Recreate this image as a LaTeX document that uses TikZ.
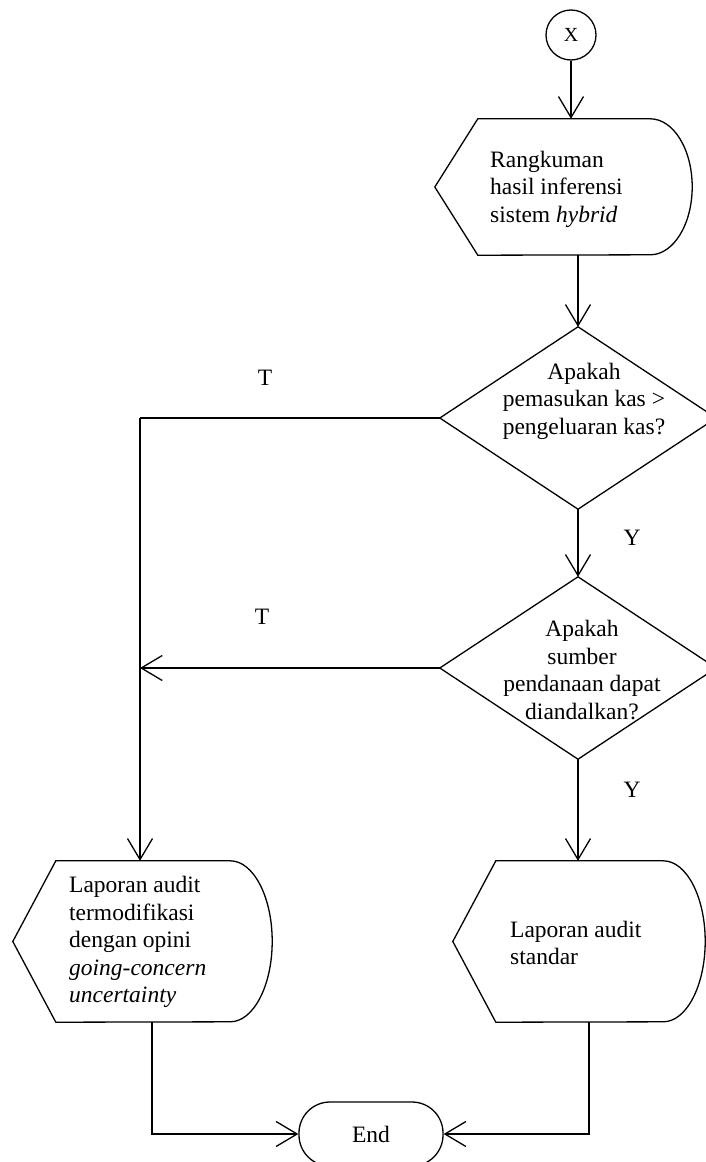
\documentclass[tikz,border=0pt]{standalone}
\usepackage{fontspec}
\setmainfont{Liberation Serif}
\usetikzlibrary{arrows.meta,calc}
\tikzset{
  shapeline/.style={line width=1.3pt},
  conn/.style={line width=1.3pt},
  arr/.style={conn,-{Straight Barb[length=21pt,width=25pt,line width=1.3pt]}},
  txt/.style={font=\fontsize{23.5pt}{27.5pt}\selectfont, inner sep=0pt},
  box/.style={draw=none, inner sep=0pt, minimum width=#1},
  lbl/.style={font=\fontsize{23.5pt}{27.5pt}\selectfont, inner sep=0pt}
}
\newcommand{\dispshape}[2]{%
  \draw[shapeline] (#1.west) -- ([xshift=43pt]#1.north west) -- ([xshift=-42pt]#1.north east)
    arc[start angle=90,end angle=-90,x radius=42pt,y radius=#2]
    -- ([xshift=43pt]#1.south west) -- cycle;}
\begin{document}
\begin{tikzpicture}[x=1pt,y=-1pt]
\useasboundingbox (0,0) rectangle (706,1162);
\clip (0,0) rectangle (706,1162);
% connector circle
\node[circle, draw, shapeline, minimum size=50pt, inner sep=0pt, font=\fontsize{20pt}{22pt}\selectfont] (c) at (571,35) {X};
% display 1
\node[box=257pt, minimum height=136pt] (h1) at (563.5,187) {};
\dispshape{h1}{68pt}
\node[txt, anchor=west, align=left] (t1) at (490,189) {Rangkuman\\hasil inferensi\\sistem \textit{hybrid}};
% decision 1
\node[box=276pt, minimum height=182pt] (d1) at (578,418) {};
\draw[shapeline] (d1.north) -- (d1.east) -- (d1.south) -- (d1.west) -- cycle;
\node[txt, align=center] (t2) at (584,401) {Apakah\\pemasukan kas >\\pengeluaran kas?};
% decision 2
\node[box=276pt, minimum height=182pt] (d2) at (578,668) {};
\draw[shapeline] (d2.north) -- (d2.east) -- (d2.south) -- (d2.west) -- cycle;
\node[txt, align=center] (t3) at (582,670) {Apakah\\sumber\\pendanaan dapat\\diandalkan?};
% display 2 (left)
\node[box=259pt, minimum height=161pt] (h2) at (142.5,941.5) {};
\dispshape{h2}{80.5pt}
\node[txt, anchor=west, align=left] (t4) at (69,942) {Laporan audit\\termodifikasi\\dengan opini\\\textit{going-concern}\\\textit{uncertainty}};
% display 3 (right)
\node[box=252pt, minimum height=161pt] (h3) at (579,941.5) {};
\dispshape{h3}{80.5pt}
\node[txt, anchor=west, align=left] (t5) at (510,943) {Laporan audit\\standar};
% terminator
\node[draw, shapeline, rounded corners=31pt, minimum width=144pt, minimum height=64pt, inner sep=0pt, font=\fontsize{23.5pt}{27.5pt}\selectfont] (end) at (371,1134) {End};
% bend point
\coordinate (k1) at (140,418);
% connectors
\draw[arr] (c.south) -- (c.south |- h1.north);
\draw[arr] (d1.north |- h1.south) -- (d1.north);
\draw[arr] (d1.south) -- (d2.north);
\draw[arr] (d2.south) -- (d2.south |- h3.north);
\draw[conn] (d1.west) -- (k1);
\draw[arr] (k1) -- (k1 |- h2.north);
\draw[arr] (d2.west) -- (k1 |- d2.west);
\draw[arr] ([xshift=9.5pt]h2.south) |- (end.west);
\draw[arr] ([xshift=10pt]h3.south) |- (end.east);
% labels
\node[lbl] (lt1) at (265,378) {T};
\node[lbl] (lt2) at (262,617) {T};
\node[lbl] (ly1) at (632,538) {Y};
\node[lbl] (ly2) at (632,790) {Y};
\end{tikzpicture}
\end{document}
